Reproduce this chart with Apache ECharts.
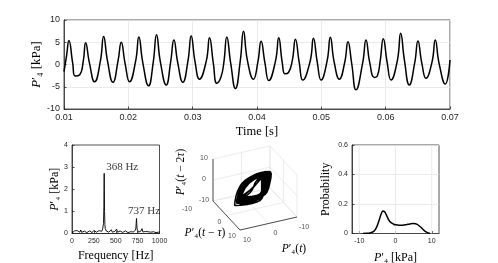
<!DOCTYPE html>
<html><head><meta charset="utf-8">
<script src="https://cdn.jsdelivr.net/npm/echarts@6/dist/echarts.min.js"></script>
<style>html,body{margin:0;padding:0;background:#fff}#c{width:498px;height:263px}</style>
</head><body><div id="c"></div>
<script>
// ---------- data ----------
const timeS = [
0.01000,0.01040,
0.01077,0.01135,0.01172,0.01245,0.01300,
0.01336,0.01396,0.01476,0.01566,
0.01616,0.01676,0.01761,0.01840,
0.01890,0.01950,0.02019,0.02114,
0.02164,0.02224,0.02314,0.02388,
0.02438,0.02498,0.02589,0.02658,
0.02708,0.02768,0.02847,0.02927,
0.02977,0.03037,0.03106,0.03212,
0.03262,0.03322,0.03375,0.03440,0.03485,
0.03531,0.03591,0.03665,0.03740,
0.03790,0.03850,0.03945,0.04014,
0.04064,0.04124,0.04183,0.04288,
0.04338,0.04392,0.04435,0.04490,0.04550,
0.04597,0.04657,0.04711,0.04827,
0.04877,0.04937,0.04996,0.05090,
0.05140,0.05200,0.05280,0.05364,
0.05414,0.05474,0.05538,0.05644,
0.05694,0.05754,0.05824,0.05870,0.05915,
0.05963,0.06023,0.06083,0.06183,
0.06233,0.06293,0.06367,0.06452,
0.06502,0.06562,0.06626,0.06721,
0.06771,0.06831,0.06926,0.07000];
const pressureKPa = [
-1.6,2.0,
5.4,0.3,-2.6,-2.3,0.8,
4.9,0.3,-3.9,0.8,
6.3,0.8,-4.0,0.8,
5.0,0.2,-3.9,0.8,
6.2,0.5,-4.8,0.6,
6.7,0.6,-4.6,0.6,
5.5,0.4,-4.0,0.8,
6.4,0.6,-3.3,0.8,
6.0,0.2,-4.2,-2.8,0.5,
6.2,0.3,-5.4,0.8,
7.5,1.0,-3.3,0.6,
5.2,0.3,-3.6,0.8,
6.0,0.5,-2.1,-1.8,1.0,
5.7,0.4,-3.5,0.8,
5.9,0.5,-3.5,0.8,
6.1,0.5,-3.3,0.5,
5.1,0.0,-5.7,0.5,
5.5,0.3,-2.9,-2.6,0.8,
5.8,0.5,-3.5,1.0,
7.0,0.8,-4.6,0.4,
5.3,0.3,-3.1,0.6,
5.5,0.2,-4.4,1.0];

const specFreqHz = [0,10,20,30,40,50,60,70,80,90,100,110,120,130,140,150,160,170,180,190,200,210,220,230,240,250,260,270,280,290,300,310,320,330,340,350,
355,360,364,366,368,370,372,376,380,
390,400,410,420,430,440,450,460,470,480,490,500,510,520,530,540,550,560,570,580,590,600,610,620,630,640,650,660,670,680,690,700,710,720,
726,730,734,737,740,744,750,
760,770,780,790,800,810,820,830,840,850,860,870,880,890,900,910,920,930,940,950,960,970,980,990,1000];
const specAmpKPa = [0.02,0.10,0.05,0.12,0.04,0.09,0.13,0.05,0.10,0.06,0.16,0.05,0.09,0.04,0.11,0.07,0.10,0.04,0.09,0.06,0.12,0.05,0.08,0.04,0.10,0.14,0.05,0.09,0.06,0.11,0.08,0.13,0.06,0.15,0.10,0.20,
0.25,0.45,1.20,2.10,2.72,2.00,1.00,0.40,0.22,
0.12,0.08,0.14,0.06,0.10,0.05,0.17,0.06,0.09,0.05,0.10,0.07,0.20,0.06,0.09,0.04,0.11,0.06,0.10,0.05,0.08,0.06,0.12,0.05,0.09,0.04,0.10,0.06,0.08,0.05,0.11,0.07,0.10,0.12,
0.15,0.25,0.50,0.68,0.45,0.20,0.12,
0.06,0.10,0.05,0.12,0.22,0.07,0.10,0.05,0.09,0.15,0.05,0.08,0.04,0.10,0.06,0.09,0.04,0.08,0.05,0.07,0.04,0.08,0.05,0.06,0.03];
const peakFreqHz = [368, 737];
const peakAmpKPa = [2.72, 0.68];
const peakText = ['368 Hz', '737 Hz'];

const pdfPressureKPa = [-9,-8,-7,-6,-5.5,-5,-4.5,-4,-3.5,-3,-2.5,-2,-1.5,-1,-0.5,0,1,2,3,4,5,6,7,8,9,9.5];
const pdfProbability = [0,0.001,0.004,0.015,0.03,0.055,0.09,0.13,0.153,0.148,0.125,0.098,0.08,0.07,0.063,0.059,0.056,0.056,0.06,0.065,0.068,0.062,0.042,0.018,0.004,0.001];

const timeTicks = [0.01,0.02,0.03,0.04,0.05,0.06,0.07];
const phaseTicks = [-10, 0, 10];
const pdfTicks = [-10, 0, 10];

// ---------- styles ----------
const serif = '"Liberation Serif","DejaVu Serif",serif';
const sans = '"Liberation Sans","DejaVu Sans",sans-serif';
const AX = '#262626', GR = '#e4e4e4';
const rich = (s) => ({ i:{fontFamily:serif,fontStyle:'italic',fontSize:s,color:'#000'}, n:{fontFamily:serif,fontSize:s,color:'#000'} });

// ---------- 3D view (projection of the delay embedding) ----------
const view = {o:[255,188], ex:[-2.85,0.65], ey:[1.35,1.45], ez:[0,-2.1]};
function P3(x,y,z){ return [view.o[0]+view.ex[0]*x+view.ey[0]*y+view.ez[0]*z, view.o[1]+view.ex[1]*x+view.ey[1]*y+view.ez[1]*z]; }
const lo = phaseTicks[0], hi = phaseTicks[phaseTicks.length-1];
const gridSegs = [];
phaseTicks.forEach(t => {
  gridSegs.push([P3(t,lo,lo),P3(t,hi,lo)]); gridSegs.push([P3(lo,t,lo),P3(hi,t,lo)]);   // floor
  gridSegs.push([P3(t,lo,lo),P3(t,lo,hi)]); gridSegs.push([P3(lo,lo,t),P3(hi,lo,t)]);   // wall y=lo
  gridSegs.push([P3(lo,t,lo),P3(lo,t,hi)]); gridSegs.push([P3(lo,lo,t),P3(lo,hi,t)]);   // wall x=lo
});
const axisSegs = [[P3(hi,lo,lo),P3(hi,lo,hi)],[P3(hi,lo,lo),P3(hi,hi,lo)],[P3(lo,hi,lo),P3(hi,hi,lo)]];
const embed = [];
for (let i = 2; i < pressureKPa.length; i++) embed.push(P3(pressureKPa[i], pressureKPa[i-1], pressureKPa[i-2]));
const yTickShift = [[-26,8],[-7,7],[-8,6]];
const tickLbl = [];
phaseTicks.forEach((t,k) => {
  const a = P3(hi,lo,t); tickLbl.push([a[0]-9, a[1]-1, String(t)]);
  const b = P3(hi,t,lo); tickLbl.push([b[0]+yTickShift[k][0], b[1]+yTickShift[k][1], String(t)]);
  const c = P3(t,hi,lo); tickLbl.push([c[0]+7, c[1]+10, String(t)]);
});

const series = [];
series.push({type:'line', xAxisIndex:0, yAxisIndex:0, data: timeS.map((t,i)=>[t,pressureKPa[i]]), smooth:0.5, showSymbol:false, lineStyle:{color:'#000',width:1.5}, silent:true});
series.push({type:'line', xAxisIndex:1, yAxisIndex:1, data: specFreqHz.map((f,i)=>[f,specAmpKPa[i]]), showSymbol:false, lineStyle:{color:'#000',width:0.9}, silent:true});
const peakOffsets = [[18,-6],[7.5,-7.5]];
series.push({type:'scatter', xAxisIndex:1, yAxisIndex:1, symbolSize:0, silent:true,
  data: peakFreqHz.map((f,i)=>({value:[f,peakAmpKPa[i]], label:{offset:peakOffsets[i]}, name:peakText[i]})),
  label:{show:true, position:'inside', formatter:p=>p.name, fontFamily:serif, fontSize:11, color:'#000'}});
gridSegs.forEach(s => series.push({type:'line', xAxisIndex:2, yAxisIndex:2, data:s, showSymbol:false, silent:true, lineStyle:{color:GR,width:0.7}}));
series.push({type:'line', xAxisIndex:2, yAxisIndex:2, data:embed, smooth:0.6, showSymbol:false, silent:true, lineStyle:{color:'#000',width:1.5}});
axisSegs.forEach(s => series.push({type:'line', xAxisIndex:2, yAxisIndex:2, data:s, showSymbol:false, silent:true, lineStyle:{color:AX,width:0.8}}));
series.push({type:'scatter', xAxisIndex:2, yAxisIndex:2, symbolSize:0, silent:true, data:tickLbl,
  label:{show:true, position:'inside', formatter:p=>p.value[2], fontFamily:sans, fontSize:7, color:AX}});
pdfTicks.forEach(v => series.push({type:'line', xAxisIndex:3, yAxisIndex:3, data:[[v,0],[v,0.6]], showSymbol:false, silent:true, lineStyle:{color:GR,width:0.8}}));
series.push({type:'line', xAxisIndex:3, yAxisIndex:3, data: pdfPressureKPa.map((x,i)=>[x,pdfProbability[i]]), smooth:0.3, showSymbol:false, silent:true, lineStyle:{color:'#000',width:1.5}});

const lblS = (s) => ({fontFamily:sans, fontSize:s, color:AX});
const baseAx = {axisLine:{show:true,onZero:false,lineStyle:{color:AX,width:0.8}}, axisTick:{show:true,inside:true,length:2.5,lineStyle:{color:AX,width:0.8}}, nameMoveOverlap:false};
const gridBase = {show:true, borderColor:AX, borderWidth:0.8, backgroundColor:'transparent', containLabel:false, outerBoundsMode:'none'};

const option = {
  animation:false,
  backgroundColor:'#fff',
  grid:[
    Object.assign({left:64, top:20, width:386, height:89}, gridBase),
    Object.assign({left:72, top:145, width:87.5, height:88.5}, gridBase),
    {left:165, top:130, width:160, height:133, show:false, outerBoundsMode:'none'},
    Object.assign({left:352, top:145, width:87, height:88.5}, gridBase)
  ],
  xAxis:[
    Object.assign({}, baseAx, {gridIndex:0, type:'value', min:timeTicks[0], max:timeTicks[timeTicks.length-1], interval:0.01,
      axisLabel:Object.assign(lblS(9),{formatter:v=>v.toFixed(2), margin:4}), splitLine:{show:true,lineStyle:{color:GR,width:0.8}},
      name:'Time [s]', nameLocation:'middle', nameGap:16, nameTextStyle:{fontFamily:serif,fontSize:12.5,color:'#000'}}),
    Object.assign({}, baseAx, {gridIndex:1, type:'value', min:0, max:1000, interval:250,
      axisLabel:Object.assign(lblS(7),{margin:4, formatter:v=>String(v)}), splitLine:{show:false},
      name:'Frequency [Hz]', nameLocation:'middle', nameGap:16, nameTextStyle:{fontFamily:serif,fontSize:12,color:'#000'}}),
    {gridIndex:2, type:'value', min:165, max:325, show:false},
    Object.assign({}, baseAx, {gridIndex:3, type:'value', min:-12, max:12,
      axisTick:{show:true,inside:true,length:2.5,customValues:pdfTicks,lineStyle:{color:AX,width:0.8}},
      axisLabel:Object.assign(lblS(7),{margin:4, customValues:pdfTicks}), splitLine:{show:false},
      name:'{i|P}{n|′₄ [kPa]}', nameLocation:'middle', nameGap:18, nameTextStyle:{fontFamily:serif,fontSize:12,color:'#000',rich:rich(12)}})
  ],
  yAxis:[
    Object.assign({}, baseAx, {gridIndex:0, type:'value', min:-10, max:10, interval:5,
      axisLabel:Object.assign(lblS(9),{margin:4}), splitLine:{show:true,lineStyle:{color:GR,width:0.8}},
      name:'{i|P}{n|′₄ [kPa]}', nameLocation:'middle', nameGap:21, nameTextStyle:{fontFamily:serif,fontSize:13,color:'#000',rich:rich(13)}}),
    Object.assign({}, baseAx, {gridIndex:1, type:'value', min:0, max:4, interval:1,
      axisLabel:Object.assign(lblS(7),{margin:4}), splitLine:{show:false},
      name:'{i|P}{n|′₄ [kPa]}', nameLocation:'middle', nameGap:11, nameTextStyle:{fontFamily:serif,fontSize:12,color:'#000',rich:rich(12)}}),
    {gridIndex:2, type:'value', min:130, max:263, inverse:true, show:false},
    Object.assign({}, baseAx, {gridIndex:3, type:'value', min:0, max:0.6, interval:0.2,
      axisLabel:Object.assign(lblS(7),{margin:4, formatter:v=>v===0?'0':String(+v.toFixed(1))}), splitLine:{show:true,lineStyle:{color:GR,width:0.8}},
      name:'Probability', nameLocation:'middle', nameGap:20, nameTextStyle:{fontFamily:serif,fontSize:12,color:'#000'}})
  ],
  graphic:[
    {type:'text', x:181, y:172, rotation:Math.PI/2, style:{text:'{i|P}{n|′₄(}{i|t}{n| − 2}{i|τ}{n|)}', rich:rich(11.5), align:'center', verticalAlign:'middle'}},
    {type:'text', x:205, y:233, style:{text:'{i|P}{n|′₄(}{i|t}{n| − }{i|τ}{n|)}', rich:rich(11.5), align:'center', verticalAlign:'middle'}},
    {type:'text', x:294, y:249, style:{text:'{i|P}{n|′₄(}{i|t}{n|)}', rich:rich(11.5), align:'center', verticalAlign:'middle'}}
  ],
  series: series
};
const chart = echarts.init(document.getElementById('c'), null, {renderer:'canvas'});
chart.setOption(option);
</script>
</body></html>
